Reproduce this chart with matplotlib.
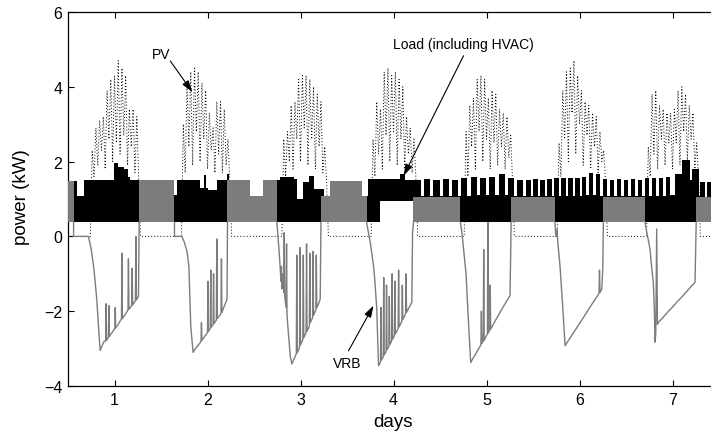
import numpy as np
import matplotlib
matplotlib.use('Agg')
import matplotlib.pyplot as plt

plt.rcParams['font.family'] = ['Liberation Sans', 'DejaVu Sans']

# ---------------- data (days, kW) ----------------
x_ticks = [1, 2, 3, 4, 5, 6, 7]
y_ticks = [-4, -2, 0, 2, 4, 6]

# Load (including HVAC): envelope of the fast-cycling signal, step breakpoints
load_t = [0.50, 0.60, 0.67, 0.99, 1.04, 1.10, 1.15, 1.17, 1.64, 1.67, 1.92, 1.965,
          1.985, 2.00, 2.10, 2.21, 2.235, 2.46, 2.60, 2.78, 2.93, 2.96, 3.03, 3.09,
          3.14, 3.25, 3.32, 3.66, 3.73, 3.86, 4.07, 4.12]
load_top = [1.48, 1.08, 1.52, 1.95, 1.85, 1.80, 1.60, 1.50, 1.10, 1.50, 1.30, 1.63,
            1.30, 1.25, 1.50, 1.66, 1.50, 1.07, 1.50, 1.58, 1.54, 1.00, 1.45, 1.62,
            1.27, 1.09, 1.49, 1.09, 1.54, 1.54, 1.68, 1.52]
load_bot = [0.38] * 29 + [0.95, 0.95, 0.95]

# HVAC cycling teeth (days 4-7)
teeth_t = [4.23, 4.295, 4.33, 4.395, 4.43, 4.495, 4.53, 4.595, 4.63, 4.695, 4.73, 4.795,
           4.83, 4.895, 4.93, 4.995, 5.03, 5.095, 5.13, 5.195, 5.23, 5.295, 5.33, 5.395,
           5.43, 5.475, 5.505, 5.55, 5.58, 5.625, 5.655, 5.70, 5.73, 5.775, 5.805, 5.85,
           5.88, 5.925, 5.955, 6.00, 6.03, 6.075, 6.105, 6.15, 6.18, 6.225, 6.255, 6.30,
           6.33, 6.375, 6.405, 6.45, 6.48, 6.525, 6.555, 6.60, 6.63, 6.675, 6.705, 6.75,
           6.78, 6.825, 6.855, 6.90, 6.93, 6.975, 7.03, 7.10, 7.19, 7.21, 7.28, 7.30,
           7.345, 7.375, 7.42, 7.45, 7.50]
teeth_top = [1.52, 1.08, 1.53, 1.08, 1.52, 1.08, 1.53, 1.08, 1.52, 1.08, 1.55, 1.08,
             1.60, 1.10, 1.55, 1.10, 1.58, 1.10, 1.66, 1.10, 1.55, 1.08, 1.52, 1.08,
             1.52, 1.08, 1.53, 1.08, 1.52, 1.08, 1.53, 1.08, 1.55, 1.08, 1.56, 1.08,
             1.55, 1.08, 1.57, 1.08, 1.58, 1.10, 1.70, 1.10, 1.66, 1.08, 1.53, 1.08,
             1.52, 1.08, 1.53, 1.08, 1.52, 1.08, 1.53, 1.08, 1.52, 1.08, 1.55, 1.08,
             1.56, 1.08, 1.55, 1.08, 1.58, 1.10, 1.67, 2.03, 1.50, 1.80, 1.08, 1.45,
             1.05, 1.45, 1.05, 1.45, 1.45]
teeth_bot = 0.38

# VRB at night (discharging, follows the load)
vrb_night_t = [[0.50, 0.56], [1.265, 1.645], [2.215, 2.46, 2.60, 2.746],
               [3.22, 3.32, 3.66, 3.71], [4.215, 4.72], [5.265, 5.737],
               [6.257, 6.705], [7.255, 7.50]]
vrb_night_top = [[1.48, 1.48], [1.50, 1.50], [1.50, 1.07, 1.50, 1.50],
                 [1.09, 1.49, 1.09, 1.09], [1.05, 1.05], [1.05, 1.05],
                 [1.05, 1.05], [1.05, 1.05]]
vrb_night_bot = 0.38

# VRB during the day (charging)
vrb_day1 = [(0.56, 0.38), (0.56, 0.0), (0.72, 0.0), (0.75, -0.35), (0.78, -0.9), (0.81, -1.7),
            (0.83, -2.5), (0.846, -3.05), (0.87, -2.9), (0.89, -2.8), (0.905, -2.8), (0.91, -1.8),
            (0.915, -2.78), (0.935, -2.7), (0.94, -1.85), (0.945, -2.67), (0.98, -2.55),
            (1.005, -2.45), (1.008, -1.9), (1.012, -2.45), (1.04, -2.35), (1.075, -2.2),
            (1.08, -0.45), (1.085, -2.2), (1.12, -2.07), (1.145, -1.97), (1.15, -0.6),
            (1.155, -1.95), (1.185, -1.85), (1.19, -0.85), (1.195, -1.83), (1.225, -1.72),
            (1.23, 0.0), (1.235, -1.7), (1.258, -1.6), (1.265, 0.38)]
vrb_day2 = [(1.645, 0.38), (1.645, 0.0), (1.725, 0.0), (1.75, -0.15), (1.78, -0.4), (1.80, -0.8),
            (1.82, -2.4), (1.845, -3.1), (1.87, -3.0), (1.90, -2.91), (1.93, -2.81), (1.935, -2.3),
            (1.94, -2.78), (1.97, -2.67), (2.0, -2.57), (2.005, -1.2), (2.01, -2.54), (2.03, -2.46),
            (2.035, -0.9), (2.04, -2.43), (2.06, -2.36), (2.065, -1.0), (2.07, -2.33),
            (2.095, -2.24), (2.1, -0.07), (2.105, -2.2), (2.145, -2.07), (2.15, -0.6),
            (2.155, -2.03), (2.18, -1.87), (2.21, -1.68), (2.215, 0.38)]
vrb_day3 = [(2.746, 0.38), (2.77, -0.4), (2.78, -0.78), (2.79, -1.2), (2.795, -0.8), (2.80, -1.4),
            (2.81, -1.0), (2.82, -1.5), (2.825, 0.1), (2.83, -1.6), (2.845, -1.9), (2.85, -0.2),
            (2.855, -2.1), (2.87, -2.6), (2.89, -3.2), (2.907, -3.41), (2.93, -3.28),
            (2.955, -3.14), (2.96, -0.5), (2.965, -3.11), (2.99, -2.97), (2.995, -0.3),
            (3.0, -2.9), (3.025, -2.76), (3.03, -0.5), (3.035, -2.71), (3.06, -2.57),
            (3.065, -0.2), (3.07, -2.54), (3.095, -2.4), (3.1, -0.45), (3.105, -2.31),
            (3.13, -2.17), (3.135, -0.4), (3.14, -2.11), (3.165, -1.97), (3.17, -0.5),
            (3.175, -1.91), (3.2, -1.77), (3.212, -1.67), (3.22, 0.38)]
vrb_day4 = [(3.71, 0.38), (3.75, -0.16), (3.785, -0.78), (3.80, -1.2), (3.82, -1.94),
            (3.839, -3.46), (3.86, -3.36), (3.865, -1.9), (3.87, -3.31), (3.89, -3.22),
            (3.895, -1.1), (3.90, -3.17), (3.92, -3.08), (3.925, -1.3), (3.93, -3.03),
            (3.95, -2.94), (3.955, -1.6), (3.96, -2.89), (3.98, -2.8), (3.985, -1.0),
            (3.99, -2.75), (4.01, -2.65), (4.015, -1.2), (4.02, -2.61), (4.05, -2.46),
            (4.055, -0.9), (4.06, -2.42), (4.09, -2.27), (4.095, -1.3), (4.10, -2.22),
            (4.13, -2.07), (4.135, -1.0), (4.14, -2.03), (4.17, -1.89), (4.197, -1.76),
            (4.205, 0.1), (4.215, 0.38)]
vrb_day5 = [(4.72, 0.38), (4.74, 0.0), (4.78, -1.0), (4.80, -2.0), (4.83, -3.37), (4.86, -3.24),
            (4.90, -3.07), (4.94, -2.9), (4.945, -2.0), (4.95, -2.86), (4.965, -2.8),
            (4.97, -0.35), (4.975, -2.78), (5.0, -2.65), (5.01, -2.61), (5.015, 0.38),
            (5.02, -2.58), (5.035, -2.5), (5.04, -1.3), (5.045, -2.48), (5.1, -2.23),
            (5.15, -2.01), (5.2, -1.8), (5.253, -1.58), (5.265, 0.38)]
vrb_day6 = [(5.737, 0.38), (5.745, 0.0), (5.76, 0.2), (5.765, -0.1), (5.79, -0.78), (5.82, -1.9),
            (5.845, -2.92), (5.9, -2.71), (5.95, -2.52), (6.0, -2.33), (6.05, -2.14),
            (6.1, -1.94), (6.15, -1.75), (6.2, -1.56), (6.21, -1.52), (6.215, -0.9),
            (6.22, -1.5), (6.239, -1.41), (6.25, -0.9), (6.257, 0.38)]
vrb_day7 = [(6.705, 0.38), (6.72, 0.15), (6.74, -0.1), (6.758, -0.34), (6.775, -0.8),
            (6.794, -1.23), (6.805, -2.0), (6.812, -2.83), (6.82, -2.6), (6.83, 0.2),
            (6.838, -2.35), (6.848, -2.3), (6.9, -2.16), (6.95, -2.02), (7.0, -1.89),
            (7.05, -1.75), (7.1, -1.62), (7.15, -1.48), (7.2, -1.34), (7.242, -1.23),
            (7.255, 0.38)]

# PV: fast-fluctuating samples, one every 0.02 day, starting at pv_start[k]
pv_step = 0.02
pv_start = [0.74, 1.72, 2.80, 3.76, 4.76, 5.76, 6.72]
pv_day1 = [0, 2.3, 1.6, 2.9, 1.9, 3.1, 2.3, 3.2, 1.8, 3.9, 2.6, 4.2, 2.0, 4.3, 2.5, 4.7,
           2.2, 4.5, 2.7, 4.3, 1.9, 3.4, 2.4, 3.4, 1.7, 3.2, 1.5, 0]
pv_day2 = [0, 3.0, 1.7, 4.1, 2.4, 4.4, 1.9, 4.5, 2.8, 4.4, 2.0, 4.1, 2.6, 3.9, 1.8, 3.3,
           2.3, 2.9, 1.7, 3.6, 2.2, 3.6, 1.7, 3.4, 1.9, 2.6, 1.5, 0]
pv_day3 = [0, 2.6, 1.6, 2.8, 2.0, 3.5, 1.8, 3.6, 2.6, 4.2, 2.0, 4.3, 2.9, 4.3, 1.9, 4.2,
           2.6, 4.0, 1.8, 3.8, 2.4, 3.6, 1.7, 2.4, 1.5, 0]
pv_day4 = [0, 2.6, 1.6, 3.6, 2.2, 3.4, 1.8, 4.4, 2.7, 4.5, 2.0, 4.3, 2.8, 4.4, 1.9, 4.2,
           2.6, 4.0, 1.8, 3.2, 2.2, 2.9, 1.7, 2.6, 1.6, 0]
pv_day5 = [0, 2.8, 1.6, 3.5, 2.4, 3.7, 1.8, 4.2, 2.8, 4.3, 2.0, 4.2, 2.6, 3.7, 1.8, 3.9,
           2.5, 3.8, 1.9, 3.4, 2.4, 3.3, 1.8, 3.2, 2.1, 2.7, 1.5, 0]
pv_day6 = [0, 2.5, 1.6, 3.9, 2.6, 4.4, 2.0, 4.5, 3.3, 4.7, 2.2, 4.3, 3.0, 3.9, 1.9, 3.6,
           2.7, 3.5, 1.8, 3.3, 2.4, 3.2, 1.7, 2.8, 2.0, 2.3, 1.5, 0]
pv_day7 = [0, 2.4, 1.6, 3.8, 2.2, 3.9, 1.8, 3.5, 2.6, 3.4, 1.9, 3.3, 2.5, 3.3, 1.8, 3.4,
           2.5, 3.9, 1.9, 4.0, 2.8, 3.8, 2.0, 3.5, 2.6, 3.3, 1.8, 2.5, 1.5, 0]
pv_night_ends = (0.50, 7.50)

# annotations: (label, text position, arrow tail, arrow head)
ann_pv = ('PV', (1.505, 4.87), (1.60, 4.69), (1.837, 3.86))
ann_load = ('Load (including HVAC)', (4.75, 5.14), (4.753, 4.83), (4.108, 1.62))
ann_vrb = ('VRB', (3.50, -3.39), (3.516, -3.06), (3.785, -1.85))

# ---------------- figure ----------------
W, H = 711, 439
fig = plt.figure(figsize=(W / 100, H / 100), dpi=100)
ax = fig.add_axes([68 / W, 1 - 387 / H, 651 / W, 374 / H])

GRAY = '#7c7c7c'

# PV (dotted)
pv_days = [pv_day1, pv_day2, pv_day3, pv_day4, pv_day5, pv_day6, pv_day7]
pv_t = [pv_night_ends[0]]
pv_v = [0.0]
for s, vals in zip(pv_start, pv_days):
    pv_t.extend(s + pv_step * np.arange(len(vals)))
    pv_v.extend(vals)
pv_t.append(pv_night_ends[1])
pv_v.append(0.0)
ax.plot(pv_t, pv_v, color='black', lw=0.7, ls=(0, (1.0, 2.2)), zorder=1)

# Load (black band)
lt = np.array(load_t + teeth_t)
ltop = np.array(load_top + teeth_top)
lbot = np.array(load_bot + [teeth_bot] * len(teeth_t))
ax.fill_between(lt, lbot, ltop, step='post', color='black', lw=0, zorder=2)

# VRB night band
for t, top in zip(vrb_night_t, vrb_night_top):
    ax.fill_between(t, vrb_night_bot, top, step='post', color=GRAY, lw=0, zorder=3)

# VRB day curves
for day in [vrb_day1, vrb_day2, vrb_day3, vrb_day4, vrb_day5, vrb_day6, vrb_day7]:
    t, v = zip(*day)
    ax.plot(t, v, color=GRAY, lw=1.0, zorder=4)

# annotations
for label, tpos, tail, head in [ann_pv, ann_load, ann_vrb]:
    ax.text(tpos[0], tpos[1], label, ha='center', va='center', fontsize=10, zorder=6)
    ax.annotate('', xy=head, xytext=tail,
                arrowprops=dict(arrowstyle='-|>,head_length=0.7,head_width=0.22',
                                color='black', lw=0.8, shrinkA=0, shrinkB=0),
                zorder=6)

ax.set_xlim(0.5, 7.5)
ax.set_ylim(-4, 6)
ax.set_xticks(x_ticks)
ax.set_yticks(y_ticks)
ax.tick_params(direction='in', top=True, right=True, length=4, width=0.8,
               labelsize=11.5, pad=4)
for sp in ax.spines.values():
    sp.set_linewidth(0.9)

ax.set_xlabel('days', fontsize=13.5)
ax.xaxis.set_label_coords(0.499, -0.096)
ax.xaxis.label.set_verticalalignment('center')
ax.set_ylabel('power (kW)', fontsize=13.5)
ax.yaxis.set_label_coords(-0.072, 0.508)
ax.yaxis.label.set_verticalalignment('center')

fig.savefig('out.png', dpi=100)
